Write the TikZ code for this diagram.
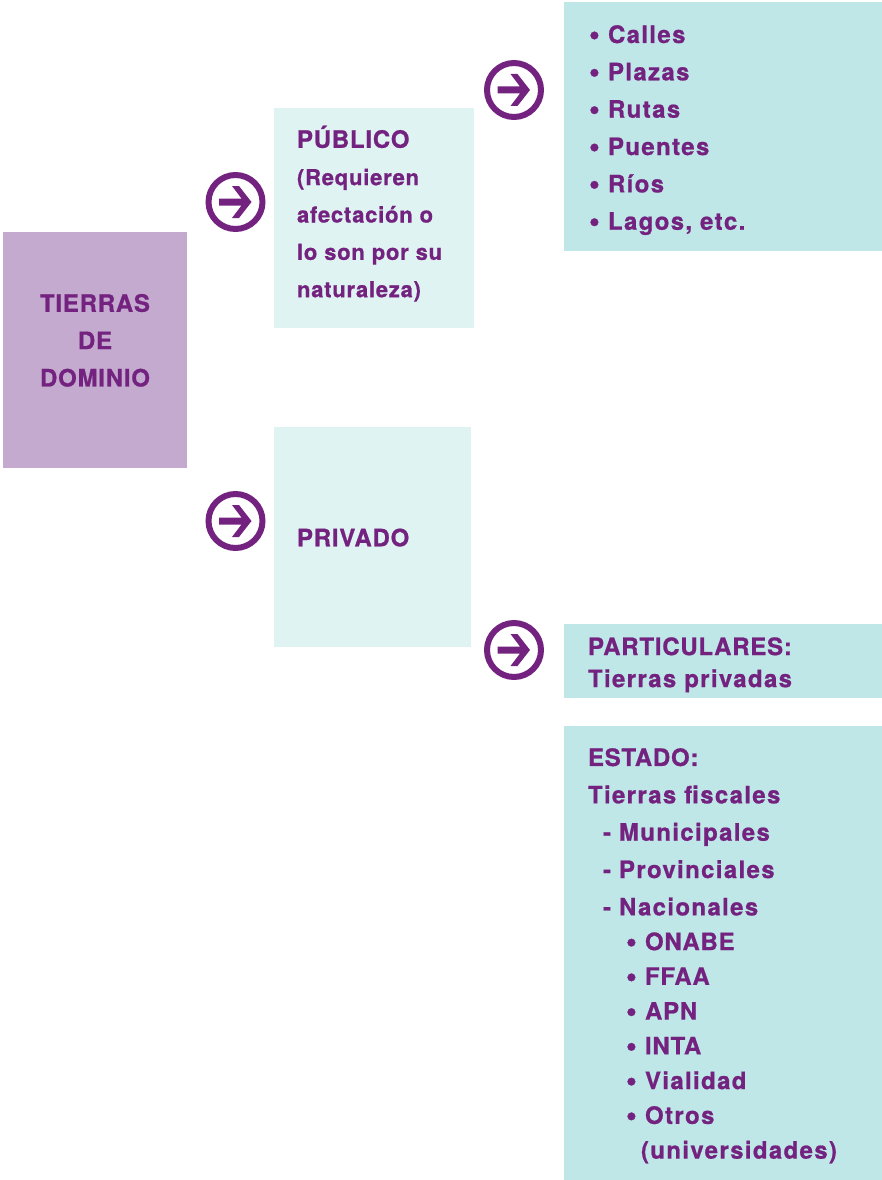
\documentclass[tikz,border=0pt]{standalone}
\usepackage{fontspec}
\setmainfont[LetterSpace=5.6,BoldFeatures={FakeBold=0.8}]{TeX Gyre Heros}
\newfontfamily\smallfam[LetterSpace=3.5,BoldFeatures={FakeBold=0.8}]{TeX Gyre Heros}
\newfontfamily\capsfam[LetterSpace=3.2,BoldFeatures={FakeBold=0.8}]{TeX Gyre Heros}
\definecolor{ink}{HTML}{74227F}
\definecolor{rootfill}{HTML}{C4AACF}
\definecolor{palefill}{HTML}{DFF3F2}
\definecolor{listfill}{HTML}{C0E7E7}
\newcommand{\smalltxt}{\smallfam\bfseries\fontsize{22}{37.35}\selectfont}
\newcommand{\capstxt}{\capsfam\bfseries\fontsize{24}{37.35}\selectfont}
\newcommand{\bul}{\makebox[19pt][l]{\raisebox{-1.8pt}{\fontsize{31}{31}\selectfont•}}}
\tikzset{
  block/.style={anchor=north west,inner sep=0pt,outer sep=0pt,draw=none},
  rootbox/.style={block,fill=rootfill},
  palebox/.style={block,fill=palefill},
  listbox/.style={block,fill=listfill},
  lab/.style={anchor=north west,inner sep=0pt,outer sep=0pt,text=ink,align=left,font=\bfseries\fontsize{24}{37.35}\selectfont},
  labc/.style={lab,anchor=north,align=center},
  ring/.style={circle,draw=ink,line width=6pt,minimum size=54pt,inner sep=0pt,outer sep=0pt,fill=white},
}
\newcommand{\arrowicon}[3]{%
  \node[ring] (#1) at (#2,#3) {};
  \fill[ink] ([shift={(-16.5,-3.5)}]#1.center) -- ([shift={(6,-3.5)}]#1.center)
    -- ([shift={(-3.5,-16)}]#1.center) -- ([shift={(3.5,-16)}]#1.center)
    -- ([shift={(16,0)}]#1.center) -- ([shift={(3.5,16)}]#1.center)
    -- ([shift={(-3.5,16)}]#1.center) -- ([shift={(6,3.5)}]#1.center)
    -- ([shift={(-16.5,3.5)}]#1.center) -- cycle;}
\begin{document}
\begin{tikzpicture}[x=1pt,y=-1pt]
\useasboundingbox (0,0) rectangle (882,1180);
\node[rootbox,minimum width=184pt,minimum height=236pt] (root) at (3,232) {};
\node[palebox,minimum width=200pt,minimum height=220pt] (pub) at (274,108) {};
\node[palebox,minimum width=197pt,minimum height=220pt] (priv) at (274,427) {};
\node[listbox,minimum width=318pt,minimum height=249pt] (pubList) at (564,2) {};
\node[listbox,minimum width=318pt,minimum height=74pt] (part) at (564,624) {};
\node[listbox,minimum width=318pt,minimum height=454pt] (estado) at (564,726) {};

\node[labc] (rootT) at (95,294) {\capstxt TIERRAS\\\capstxt DE\\\capstxt DOMINIO};
\node[lab] (pubT) at (297,125.7) {\capstxt PÚBLICO\\\smalltxt (Requieren\\\smalltxt afectación o\\\smalltxt lo son por su\\\smalltxt naturaleza)};
\node[lab] (privT) at (297,528.5) {\capstxt PRIVADO};
\node[lab] (listT) at (589,25.2) {\bul Calles\\\bul Plazas\\\bul Rutas\\\bul Puentes\\\bul Ríos\\\bul Lagos, etc.};
\node[lab] (partT) at (588,637.3) {\capstxt PARTICULARES:\\[-5.3pt]Tierras privadas};
\node[lab] (estT) at (588,748.2) {\capstxt ESTADO:\\Tierras fiscales\\
\hspace*{15pt}- Municipales\\\hspace*{15pt}- Provinciales\\\hspace*{15pt}- Nacionales\\[-2.6pt]
\hspace*{38pt}\bul\capstxt ONABE\\[-2.6pt]\hspace*{38pt}\bul\capstxt FFAA\\[-2.6pt]\hspace*{38pt}\bul\capstxt APN\\[-2.6pt]\hspace*{38pt}\bul\capstxt INTA\\[-2.6pt]\hspace*{38pt}\bul Vialidad\\[-2.6pt]\hspace*{38pt}\bul Otros\\[-2.6pt]\hspace*{53pt}(universidades)};

\arrowicon{a1}{235.5}{202}
\arrowicon{a2}{514}{90}
\arrowicon{a3}{235.5}{521}
\arrowicon{a4}{514}{650}
\end{tikzpicture}
\end{document}
